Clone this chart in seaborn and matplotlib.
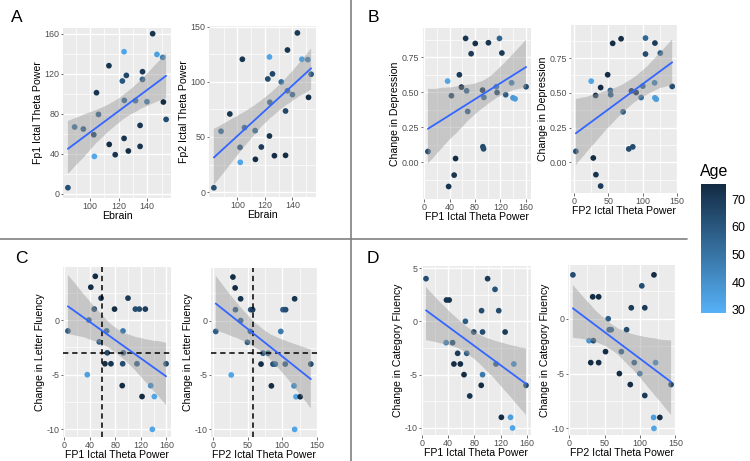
import numpy as np
import pandas as pd
import matplotlib
matplotlib.use("Agg")
import matplotlib.pyplot as plt
import seaborn as sns
from matplotlib.colors import LinearSegmentedColormap, Normalize
from matplotlib.lines import Line2D
from matplotlib.cm import ScalarMappable

# ---------------- data ----------------
# Panel A, left: Ebrain vs Fp1 ictal theta power
a1_ebrain = [84.5, 89.2, 95.3, 102.6, 103.0, 104.5, 105.9, 113.2, 113.4, 117.6, 122.6, 123.8, 123.8, 124.0,
             125.4, 126.8, 131.8, 135.0, 135.0, 136.7, 136.7, 139.8, 143.8, 146.8, 150.8, 151.3, 153.2]
a1_fp1 = [6.0, 66.7, 64.7, 59.0, 37.3, 101.0, 79.3, 128.0, 49.3, 39.0, 112.7, 142.0, 55.3, 93.3,
          118.3, 42.7, 93.0, 68.3, 47.3, 122.0, 114.3, 92.0, 160.0, 139.3, 136.3, 91.7, 74.3]
a1_age = [63, 52, 58, 68, 32, 72, 58, 72, 75, 72, 60, 33, 72, 55,
          66, 75, 52, 72, 72, 70, 58, 50, 72, 35, 45, 75, 64]

# Panel A, right: Ebrain vs Fp2 ictal theta power
a2_ebrain = [82.9, 88.1, 94.5, 101.9, 102.1, 103.6, 105.2, 112.9, 113.1, 117.4, 122.1, 123.3, 123.3, 123.6,
             125.5, 126.9, 131.9, 135.0, 135.0, 136.4, 136.4, 140.0, 143.6, 146.9, 151.2, 151.7, 153.6]
a2_fp2 = [3.9, 55.2, 70.9, 40.6, 27.0, 120.6, 58.5, 55.8, 29.7, 40.9, 102.7, 122.7, 50.9, 81.5,
          107.3, 33.0, 100.0, 73.6, 33.3, 129.0, 92.0, 88.5, 144.5, 120.6, 120.3, 86.0, 107.0]
a2_age = [63, 55, 72, 62, 33, 72, 58, 55, 75, 70, 64, 33, 72, 55,
          66, 75, 52, 66, 75, 72, 55, 55, 70, 35, 45, 75, 60]

# Panel B, left: FP1 vs change in depression
b1_fp1 = [6.0, 37.0, 38.6, 43.0, 47.3, 49.5, 55.5, 58.8, 65.3, 66.9, 68.6, 74.0, 80.5, 92.0,
          92.5, 93.6, 94.1, 101.2, 113.7, 114.8, 118.6, 122.4, 128.4, 137.7, 139.9, 143.2, 160.5]
b1_dep = [0.078, 0.579, -0.171, 0.475, -0.090, 0.028, 0.624, 0.536, 0.883, 0.510, 0.363, 0.774, 0.847, 0.515,
          0.112, 0.097, 0.463, 0.852, 0.539, 0.498, 0.883, 0.779, 0.482, 0.567, 0.460, 0.453, 0.539]
b1_age = [63, 33, 72, 64, 72, 75, 70, 75, 72, 55, 58, 70, 74, 70,
          64, 64, 52, 72, 50, 64, 55, 70, 58, 45, 38, 36, 64]

# Panel B, right: FP2 vs change in depression
b2_fp2 = [2.9, 25.3, 28.3, 31.7, 32.1, 39.0, 39.0, 49.2, 53.1, 53.6, 56.5, 68.7, 71.6, 79.9,
          83.8, 85.7, 90.6, 97.9, 100.3, 104.2, 104.2, 117.4, 117.9, 117.9, 119.8, 125.7, 143.0]
b2_dep = [0.079, 0.584, 0.031, 0.481, -0.089, 0.538, -0.171, 0.630, 0.517, 0.486, 0.856, 0.889, 0.363, 0.096,
          0.514, 0.111, 0.502, 0.466, 0.548, 0.894, 0.779, 0.572, 0.858, 0.464, 0.454, 0.786, 0.546]
b2_age = [62, 33, 75, 72, 72, 75, 70, 75, 55, 58, 75, 75, 58, 64,
          72, 64, 72, 52, 55, 55, 64, 45, 70, 36, 36, 58, 64]

# Panel C, left: FP1 vs change in letter fluency
c1_fp1 = [6.3, 36.5, 39.0, 42.0, 47.4, 49.0, 55.2, 58.0, 64.0, 66.7, 67.7, 73.4, 79.0, 91.0,
          91.7, 92.2, 92.7, 100.0, 111.5, 114.0, 117.7, 121.9, 127.0, 135.4, 138.0, 141.1, 159.4]
c1_letter = [-1, -5, 0, 3, 1, 4, -2, 2, -4, -1, -3, -4, 1, -6,
             -4, -1, -3, 2, 1, -4, 1, -7, 1, -6, -10, -7, -4]
c1_age = [58, 35, 55, 75, 64, 75, 58, 70, 75, 55, 64, 72, 75, 75,
          64, 48, 55, 70, 64, 58, 64, 75, 70, 42, 33, 33, 64]
c1_cut_x, c1_cut_y = 58.9, -3

# Panel C, right: FP2 vs change in letter fluency
c2_fp2 = [4.2, 26.5, 28.9, 32.1, 32.6, 40.0, 40.0, 49.8, 54.0, 54.5, 57.3, 69.4, 72.2, 79.6,
          84.3, 86.6, 89.9, 97.8, 101.0, 104.3, 104.8, 116.9, 117.8, 117.8, 119.7, 125.8, 141.1]
c2_letter = [-1, -5, 4, 3, 1, 2, 0, -2, -1, 1, 1, -4, -3, -3,
             -6, -4, -4, -1, 1, -4, 1, -6, 2, -10, -7, -7, -4]
c2_age = [58, 33, 75, 75, 60, 72, 58, 58, 55, 58, 70, 75, 58, 55,
          75, 64, 55, 48, 58, 58, 64, 42, 72, 33, 33, 75, 64]
c2_cut_x, c2_cut_y = 57.3, -3

# Panel D, left: FP1 vs change in category fluency
d1_fp1 = [6.2, 36.9, 37.4, 41.5, 46.7, 48.7, 54.4, 58.5, 64.1, 66.2, 68.2, 72.8, 79.0, 90.3,
          90.8, 92.3, 92.3, 100.0, 111.3, 112.8, 117.0, 121.0, 126.7, 134.9, 138.0, 140.0, 158.5]
d1_cat = [4, -2, 2, 2, -2, -4, -3, -4, -5, 0, -3, -7, -1, -6,
          1, -1, -5, 4, 3, -4, 1, -9, -1, -9, -10, -4, -6]
d1_age = [64, 45, 72, 72, 64, 75, 70, 75, 75, 58, 58, 72, 64, 75,
          64, 64, 48, 70, 62, 58, 64, 75, 70, 36, 33, 42, 64]

# Panel D, right: FP2 vs change in category fluency
d2_fp2 = [5.1, 27.9, 30.3, 33.1, 34.0, 41.5, 41.5, 51.2, 55.0, 56.4, 59.2, 70.8, 73.6, 81.0,
          86.2, 87.6, 91.8, 99.7, 102.5, 106.7, 106.7, 119.2, 119.7, 119.7, 122.0, 128.0, 143.9]
d2_cat = [4, -2, -4, 2, -2, 2, -4, -3, 0, -1, -1, -5, -3, -1,
          -6, 1, -4, -5, 3, 1, -7, -9, 4, -10, -4, -9, -6]
d2_age = [64, 38, 75, 75, 64, 75, 75, 75, 58, 58, 58, 75, 58, 64,
          75, 70, 58, 48, 64, 70, 70, 36, 75, 33, 42, 75, 64]

age_ticks = [30, 40, 50, 60, 70]
age_range = (28.9, 75.5)

# ---------------- styling ----------------
sns.set_theme(style="darkgrid")
plt.rcParams["font.family"] = ["Liberation Sans", "DejaVu Sans"]
plt.rcParams["axes.unicode_minus"] = False

W, H = 750, 461
fig = plt.figure(figsize=(W / 100, H / 100), dpi=100)
fig.patch.set_facecolor("white")


def rect(x0, y0, x1, y1):
    return [x0 / W, 1 - y1 / H, (x1 - x0) / W, (y1 - y0) / H]


cmap = LinearSegmentedColormap.from_list("age", ["#56B1F7", "#132B43"])
norm = Normalize(*age_range)

panels = [
    dict(x=a1_ebrain, y=a1_fp1, age=a1_age, box=(63, 28, 171, 198), xl="Ebrain", yl="Fp1 Ictal Theta Power",
         xt=[100, 120, 140], yt=[0, 40, 80, 120, 160], ylim=(-4.3, 165.7), fmt="{:g}"),
    dict(x=a2_ebrain, y=a2_fp2, age=a2_age, box=(209, 26, 316, 197), xl="Ebrain", yl="Fp2 Ictal Theta Power",
         xt=[100, 120, 140], yt=[0, 50, 100, 150], ylim=(-4.5, 150.8), fmt="{:g}"),
    dict(x=b1_fp1, y=b1_dep, age=b1_age, box=(423, 28, 531, 199), xl="FP1 Ictal Theta Power", yl="Change in Depression",
         xt=[0, 40, 80, 120, 160], yt=[0, 0.25, 0.5, 0.75], ylim=(-0.26, 0.957), fmt="{:.2f}"),
    dict(x=b2_fp2, y=b2_dep, age=b2_age, box=(571, 25, 677, 193), xl="FP2 Ictal Theta Power", yl="Change in Depression",
         xt=[0, 50, 100, 150], yt=[0, 0.25, 0.5, 0.75], ylim=(-0.221, 0.988), fmt="{:.2f}"),
    dict(x=c1_fp1, y=c1_letter, age=c1_age, box=(63, 267, 171, 437), xl="FP1 Ictal Theta Power", yl="Change in Letter Fluency",
         xt=[0, 40, 80, 120, 160], yt=[-10, -5, 0], ylim=(-10.7, 4.85), fmt="{:g}", cut=(c1_cut_x, c1_cut_y)),
    dict(x=c2_fp2, y=c2_letter, age=c2_age, box=(211, 268, 317, 437), xl="FP2 Ictal Theta Power", yl="Change in Letter Fluency",
         xt=[0, 50, 100, 150], yt=[-10, -5, 0], ylim=(-10.7, 4.83), fmt="{:g}", cut=(c2_cut_x, c2_cut_y)),
    dict(x=d1_fp1, y=d1_cat, age=d1_age, box=(421, 266, 531, 435), xl="FP1 Ictal Theta Power", yl="Change in Category Fluency",
         xt=[0, 40, 80, 120, 160], yt=[-10, -5, 0, 5], ylim=(-10.66, 5.19), fmt="{:g}"),
    dict(x=d2_fp2, y=d2_cat, age=d2_age, box=(568, 265, 676, 435), xl="FP2 Ictal Theta Power", yl="Change in Category Fluency",
         xt=[0, 50, 100, 150], yt=[-10, -5, 0], ylim=(-10.6, 4.9), fmt="{:g}"),
]


def minors(major, lo, hi):
    step = major[1] - major[0]
    vals = np.arange(major[0] - step / 2, major[-1] + step, step)
    return [v for v in vals if lo <= v <= hi]


for p in panels:
    ax = fig.add_axes(rect(*p["box"]))
    ax.set_facecolor("#EBEBEB")
    ax.set_axisbelow(True)
    df = pd.DataFrame({"x": p["x"], "y": p["y"], "age": p["age"]})

    sns.scatterplot(data=df, x="x", y="y", hue="age", palette=cmap, hue_norm=norm,
                    s=17, linewidth=0, legend=False, ax=ax, zorder=3)
    n0 = len(ax.collections)
    sns.regplot(data=df, x="x", y="y", scatter=False, color="#3366FF", seed=0, n_boot=2000,
                line_kws={"linewidth": 1.3, "zorder": 5}, ax=ax)
    for c in ax.collections[n0:]:
        c.set_facecolor("#999999")
        c.set_alpha(0.45)
        c.set_edgecolor("none")
        c.set_zorder(4)

    xs = np.asarray(p["x"], float)
    span = xs.max() - xs.min()
    xlim = (xs.min() - 0.05 * span, xs.max() + 0.05 * span)
    ax.set_xlim(*xlim)
    ax.set_ylim(*p["ylim"])

    if "cut" in p:
        ax.axvline(p["cut"][0], color="black", linestyle=(0, (3.5, 2.5)), linewidth=1.1, zorder=4.5)
        ax.axhline(p["cut"][1], color="black", linestyle=(0, (3.5, 2.5)), linewidth=1.1, zorder=4.5)

    ax.set_xticks(p["xt"])
    ax.set_yticks(p["yt"])
    ax.set_xticks(minors(p["xt"], *xlim), minor=True)
    ax.set_yticks(minors(p["yt"], *p["ylim"]), minor=True)
    ax.set_xticklabels([f"{v:g}" for v in p["xt"]])
    ax.set_yticklabels([p["fmt"].format(v) for v in p["yt"]])

    ax.grid(which="major", color="white", linewidth=1.0)
    ax.grid(which="minor", color="white", linewidth=0.5)
    for s in ax.spines.values():
        s.set_visible(False)
    ax.tick_params(which="major", length=1.8, width=0.5, color="#333333", labelsize=6.4,
                   labelcolor="#4D4D4D", pad=0.8, bottom=True, left=True)
    ax.tick_params(which="minor", length=0)
    ax.set_xlabel(p["xl"], fontsize=7.6, color="black", labelpad=0.6)
    ax.set_ylabel(p["yl"], fontsize=7.6, color="black", labelpad=1.0)

# panel letters
for letter, (lx, ly) in {"A": (17, 18), "B": (373, 17), "C": (21, 258), "D": (373, 258)}.items():
    fig.text(lx / W, 1 - ly / H, letter, fontsize=12.5, ha="center", va="center", color="black")

# dividers
fig.add_artist(Line2D([350.7 / W, 350.7 / W], [0, 1], color="#808080", linewidth=1.2))
fig.add_artist(Line2D([0, 687 / W], [1 - 239 / H, 1 - 239 / H], color="#808080", linewidth=1.2))

# colour bar
cax = fig.add_axes(rect(700.7, 184, 726, 313))
sm = ScalarMappable(norm=norm, cmap=cmap)
cb = fig.colorbar(sm, cax=cax)
cb.set_ticks(age_ticks)
cb.outline.set_visible(False)
cax.tick_params(which="major", direction="in", length=3.6, width=0.8, color="white",
                left=True, right=True, labelleft=False, labelright=True,
                labelsize=9, labelcolor="black", pad=4)
cax.tick_params(which="minor", length=0)
fig.text(700 / W, 1 - 171 / H, "Age", fontsize=11.5, ha="left", va="center", color="black")

fig.savefig("out.png", dpi=100)
